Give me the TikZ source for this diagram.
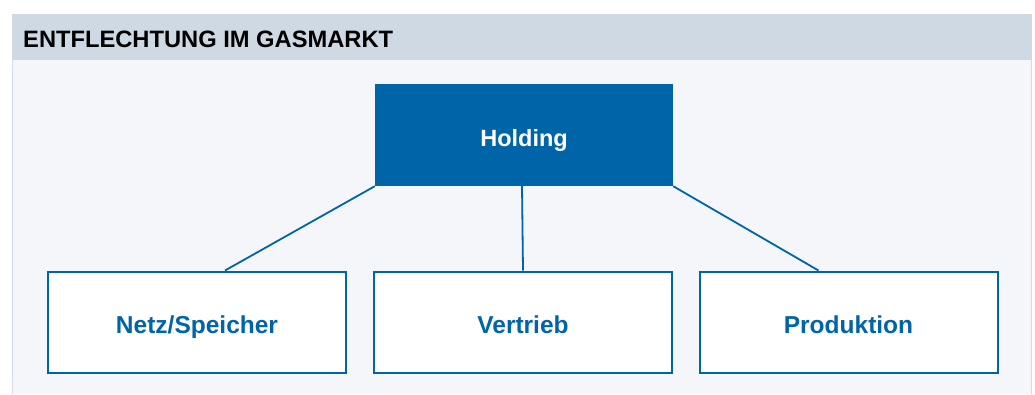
\documentclass[tikz,border=0pt]{standalone}
\usepackage{fontspec}
\setmainfont{Liberation Sans}
\definecolor{hdr}{HTML}{CFD9E3}
\definecolor{bodybg}{HTML}{F4F6FA}
\definecolor{edge}{HTML}{D3DCE6}
\definecolor{dblue}{HTML}{0065A8}
\tikzset{
  boxtext/.style={inner sep=0pt, text height=22pt, text depth=0pt, font=\fontsize{24.5}{28}\selectfont\bfseries},
  sub/.style={boxtext, draw=dblue, line width=2pt, fill=white, minimum width=298pt, minimum height=101pt, text=dblue},
  hold/.style={boxtext, fill=dblue, minimum width=298pt, minimum height=102pt, text=white, font=\fontsize{23.5}{28}\selectfont\bfseries},
  conn/.style={draw=dblue, line width=1.8pt}
}
\begin{document}
\begin{tikzpicture}[x=1pt,y=-1pt]
\useasboundingbox (0,0) rectangle (1035,394);
\fill[white] (0,0) rectangle (1035,394);
\fill[bodybg] (12,60) rectangle (1032,394);
\fill[hdr] (12,14) rectangle (1032,60);
\draw[edge, line width=1pt] (12.5,60) -- (12.5,394);
\draw[edge, line width=1pt] (1031.5,60) -- (1031.5,394);
\node[anchor=base west, font=\fontsize{23.7}{28}\selectfont\bfseries, inner sep=0pt] (title) at (23,47.5) {ENTFLECHTUNG IM GASMARKT};
\node[hold] (h) at (524,135) {Holding};
\node[sub] (n) at (197,322) {Netz/Speicher};
\node[sub] (v) at (523,322) {Vertrieb};
\node[sub] (p) at (848.5,322) {Produktion};
\draw[conn] (h.south west) -- ([xshift=28pt]n.north);
\draw[conn] ([xshift=-2pt]h.south) -- (v.north);
\draw[conn] (h.south east) -- ([xshift=-30pt]p.north);
\end{tikzpicture}
\end{document}
